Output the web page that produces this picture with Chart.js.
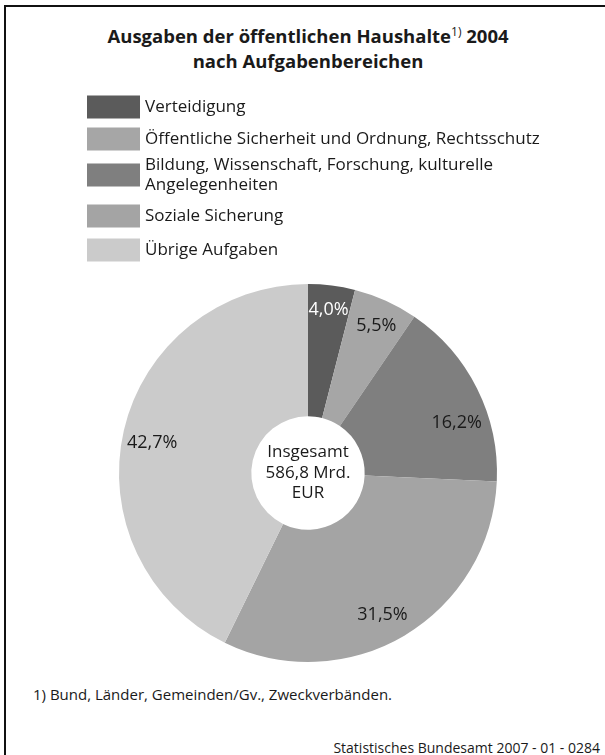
<!DOCTYPE html>
<html>
<head>
<meta charset="utf-8">
<script src="https://cdn.jsdelivr.net/npm/chart.js@4.4.1/dist/chart.umd.min.js"></script>
<style>
  html, body { margin: 0; padding: 0; background: #fff; }
  body { width: 605px; height: 755px; position: relative; overflow: hidden; font-family: "Open Sans", sans-serif; color: #1a1a1a; }
  #frame { position: absolute; left: 4px; top: 5px; width: 700px; height: 800px; border-top: 2px solid #111; border-left: 2px solid #111; }
  #title { position: absolute; left: 5px; width: 606px; top: 23px; text-align: center; font-weight: bold; font-size: 18.5px; line-height: 25px; }
  #title sup { font-size: 12px; font-weight: normal; vertical-align: 7px; line-height: 0; }
  #foot { position: absolute; left: 33px; top: 684px; font-size: 15px; }
  #source { position: absolute; right: 5px; top: 738px; font-size: 14px; }
  #wrap { position: absolute; left: 0; top: 0; width: 605px; height: 755px; }
</style>
</head>
<body>
<div id="frame"></div>
<div id="title">Ausgaben der öffentlichen Haushalte<sup>1)</sup> 2004<br>nach Aufgabenbereichen</div>
<div id="foot">1) Bund, Länder, Gemeinden/Gv., Zweckverbänden.</div>
<div id="source">Statistisches Bundesamt 2007 - 01 - 0284</div>
<div id="wrap"><canvas id="c"></canvas></div>
<script>
// Data
const categories = [
  "Verteidigung",
  "Öffentliche Sicherheit und Ordnung, Rechtsschutz",
  ["Bildung, Wissenschaft, Forschung, kulturelle", "Angelegenheiten"],
  "Soziale Sicherung",
  "Übrige Aufgaben"
];
const shares = [4.0, 5.5, 16.2, 31.5, 42.7];
const valueLabels = ["4,0%", "5,5%", "16,2%", "31,5%", "42,7%"];
const centerLines = ["Insgesamt", "586,8 Mrd.", "EUR"];

const colors = ["#5b5b5b", "#a6a6a6", "#7f7f7f", "#a4a4a4", "#cbcbcb"];
const labelColors = ["#ffffff", "#1a1a1a", "#1a1a1a", "#1a1a1a", "#1a1a1a"];
const FONT = "'Open Sans', sans-serif";

const legendPlugin = {
  id: 'customLegend',
  afterDraw(chart) {
    const ctx = chart.ctx;
    ctx.save();
    ctx.font = "17px " + FONT;
    ctx.textBaseline = 'middle';
    ctx.textAlign = 'left';
    const rows = [107, 139, 175, 216, 250];
    categories.forEach((cat, i) => {
      const cy = rows[i];
      ctx.fillStyle = colors[i];
      ctx.fillRect(87, cy - 11.5, 53, 23);
      ctx.fillStyle = "#1a1a1a";
      const lines = Array.isArray(cat) ? cat : [cat];
      const lh = 20;
      const y0 = cy - (lines.length - 1) * lh / 2;
      lines.forEach((ln, k) => ctx.fillText(ln, 145, y0 + k * lh));
    });
    ctx.restore();
  }
};

const labelPlugin = {
  id: 'sliceLabels',
  afterDatasetsDraw(chart, args, opts) {
    const ctx = chart.ctx;
    const meta = chart.getDatasetMeta(0);
    const nudge = opts.angleNudgeDeg || [];
    const radf = opts.radiusFactor || [];
    ctx.save();
    ctx.textAlign = 'center';
    ctx.textBaseline = 'middle';
    ctx.font = "18px " + FONT;
    meta.data.forEach((arc, i) => {
      const p = arc.getProps(['x', 'y', 'startAngle', 'endAngle', 'outerRadius'], true);
      const mid = (p.startAngle + p.endAngle) / 2 + (nudge[i] || 0) * Math.PI / 180;
      const r = p.outerRadius * (radf[i] || 0.845);
      ctx.fillStyle = labelColors[i];
      ctx.fillText(valueLabels[i], p.x + Math.cos(mid) * r, p.y + Math.sin(mid) * r);
    });
    const a0 = meta.data[0];
    ctx.fillStyle = "#1a1a1a";
    ctx.font = "17px " + FONT;
    const lh = 20.5;
    centerLines.forEach((t, k) => ctx.fillText(t, a0.x, a0.y - lh + k * lh));
    ctx.restore();
  }
};

new Chart(document.getElementById('c'), {
  type: 'doughnut',
  data: {
    labels: categories.map(c => Array.isArray(c) ? c.join(' ') : c),
    datasets: [{
      data: shares,
      backgroundColor: colors,
      borderWidth: 0
    }]
  },
  options: {
    responsive: true,
    maintainAspectRatio: false,
    animation: false,
    cutout: '30%',
    rotation: 0,
    layout: { padding: { left: 119, right: 108, top: 284, bottom: 93 } },
    plugins: {
      legend: { display: false },
      tooltip: { enabled: false },
      title: { display: false },
      sliceLabels: {
        angleNudgeDeg: [0, 0.5, 8, 3, -2],
        radiusFactor: [0.87, 0.86, 0.83, 0.85, 0.84]
      }
    }
  },
  plugins: [legendPlugin, labelPlugin]
});
</script>
</body>
</html>
